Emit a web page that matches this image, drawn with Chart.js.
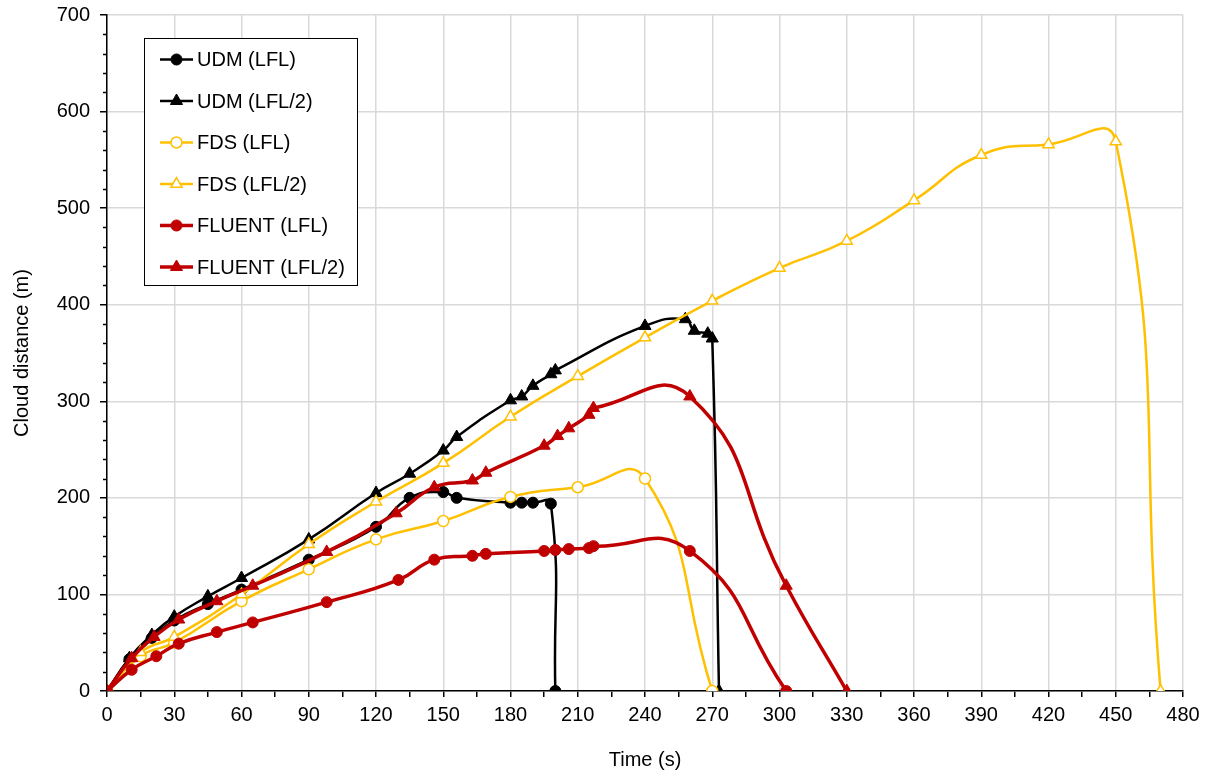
<!DOCTYPE html>
<html lang="en">
<head>
<meta charset="UTF-8">
<title>Cloud distance</title>
<script src="https://cdn.jsdelivr.net/npm/chart.js@4.4.1/dist/chart.umd.min.js"></script>
<style>
  html, body { margin: 0; padding: 0; background: #fff; }
  canvas { display: block; }
</style>
</head>
<body>
<canvas id="chart" width="1211" height="778"></canvas>
<script>
const labels = ['UDM (LFL)', 'UDM (LFL/2)', 'FDS (LFL)', 'FDS (LFL/2)', 'FLUENT (LFL)', 'FLUENT (LFL/2)'];

const udmLflT = [0, 10, 20, 30, 45, 60, 90, 120, 135, 150, 156, 180, 185, 190, 198, 200];
const udmLflV = [0, 33, 55, 73, 90, 105, 136, 170, 200, 206, 200, 195, 195, 195, 194, 0];

const udmHalfT = [0, 10, 20, 30, 45, 60, 90, 120, 135, 150, 156, 180, 185, 190, 198, 200, 240, 258, 262, 268, 270, 273];
const udmHalfV = [0, 34, 58, 77, 98, 117, 157, 205, 225, 249, 263, 301, 305, 316, 328, 332, 378, 385, 373, 370, 365, 0];

const fdsLflT = [0, 15, 30, 60, 90, 120, 150, 180, 210, 240, 270];
const fdsLflV = [0, 36, 50, 93, 126, 157, 176, 201, 211, 220, 0];

const fdsHalfT = [0, 15, 30, 60, 90, 120, 150, 180, 210, 240, 270, 300, 330, 360, 390, 420, 450, 470];
const fdsHalfV = [0, 40, 56, 100, 152, 196, 236, 284, 326, 366, 404, 438, 466, 508, 555, 566, 569, 0];

const fluentLflT = [0, 11, 22, 32, 49, 65, 98, 130, 146, 163, 169, 195, 200, 206, 215, 217, 260, 303];
const fluentLflV = [0, 22, 36, 49, 61, 71, 92, 115, 136, 140, 142, 145, 146, 147, 148, 150, 145, 0];

const fluentHalfT = [0, 11, 21, 32, 49, 65, 98, 129, 146, 163, 169, 195, 201, 206, 215, 217, 260, 303, 330];
const fluentHalfV = [0, 34, 56, 74, 93, 109, 144, 184, 211, 218, 226, 254, 264, 272, 286, 293, 305, 109, 0];

const xTicks = { min: 0, max: 480, step: 15, labelEvery: 30 };
const yTicks = { min: 0, max: 700, step: 100, minor: 20 };

const BLACK = '#000000', GOLD = '#FFC000', RED = '#C00000';
const GRID = '#d9d9d9';

function pts(t, v) {
  return t.map((x, i) => ({ x: x, y: v[i] }));
}

function series(i, t, v, color, width, style, radius, hollow) {
  return {
    label: labels[i],
    data: pts(t, v),
    borderColor: color,
    backgroundColor: color,
    borderWidth: width,
    pointStyle: style,
    pointRadius: radius,
    pointBorderWidth: hollow ? 1.5 : 1,
    pointBorderColor: color,
    pointBackgroundColor: hollow ? '#ffffff' : color,
    tension: 0.5,
    order: 6 - i
  };
}

const datasets = [
  series(0, udmLflT, udmLflV, BLACK, 2.5, 'circle', 5.5, false),
  series(1, udmHalfT, udmHalfV, BLACK, 2.5, 'triangle', 7, false),
  series(2, fdsLflT, fdsLflV, GOLD, 2.5, 'circle', 5.5, true),
  series(3, fdsHalfT, fdsHalfV, GOLD, 2.5, 'triangle', 6.5, true),
  series(4, fluentLflT, fluentLflV, RED, 3.5, 'circle', 5.5, false),
  series(5, fluentHalfT, fluentHalfV, RED, 3.5, 'triangle', 7, false)
];

function marker(ctx, style, x, y, r) {
  ctx.beginPath();
  if (style === 'circle') {
    ctx.arc(x, y, r, 0, Math.PI * 2);
  } else {
    for (let k = 0; k < 3; k++) {
      const a = k * 2 * Math.PI / 3;
      const px = x + Math.sin(a) * r, py = y - Math.cos(a) * r;
      if (k === 0) ctx.moveTo(px, py); else ctx.lineTo(px, py);
    }
    ctx.closePath();
  }
  ctx.fill();
  ctx.stroke();
}

// boxed legend inside the plot, top left
const boxLegend = {
  id: 'boxLegend',
  afterDraw(chart) {
    const ctx = chart.ctx;
    ctx.save();
    ctx.fillStyle = '#fff';
    ctx.fillRect(144.5, 38.5, 213, 247);
    ctx.strokeStyle = '#000';
    ctx.lineWidth = 1;
    ctx.strokeRect(144.5, 38.5, 213, 247);
    ctx.font = '20px "Liberation Sans", Arial, sans-serif';
    ctx.textBaseline = 'middle';
    chart.data.datasets.forEach((ds, i) => {
      const y = 59.5 + i * 41.5;
      ctx.strokeStyle = ds.borderColor;
      ctx.lineWidth = ds.borderWidth;
      ctx.beginPath();
      ctx.moveTo(160, y);
      ctx.lineTo(193, y);
      ctx.stroke();
      ctx.fillStyle = ds.pointBackgroundColor;
      ctx.lineWidth = ds.pointBorderWidth;
      marker(ctx, ds.pointStyle, 176.5, y, ds.pointRadius);
      ctx.fillStyle = '#000';
      ctx.fillText(ds.label, 197, y + 1);
    });
    ctx.restore();
  }
};

// small y ticks between the labelled ones
const minorTicks = {
  id: 'minorTicks',
  afterDraw(chart) {
    const ys = chart.scales.y;
    const ctx = chart.ctx;
    ctx.save();
    ctx.strokeStyle = '#000';
    ctx.lineWidth = 1.5;
    ctx.beginPath();
    for (let v = yTicks.min + yTicks.minor; v < yTicks.max; v += yTicks.minor) {
      if (v % yTicks.step === 0) continue;
      const py = Math.round(ys.getPixelForValue(v)) + 0.5;
      ctx.moveTo(ys.right - 4, py);
      ctx.lineTo(ys.right, py);
    }
    ctx.stroke();
    ctx.restore();
  }
};

Chart.defaults.font.family = '"Liberation Sans", Arial, sans-serif';
Chart.defaults.font.size = 20;
Chart.defaults.color = '#000';

new Chart(document.getElementById('chart'), {
  type: 'line',
  data: { datasets: datasets },
  options: {
    responsive: false,
    animation: false,
    devicePixelRatio: 1,
    layout: { padding: { top: 15, right: 28, left: 0, bottom: 0 } },
    plugins: {
      legend: { display: false },
      tooltip: { enabled: false }
    },
    scales: {
      x: {
        type: 'linear',
        min: xTicks.min,
        max: xTicks.max,
        ticks: {
          stepSize: xTicks.step,
          autoSkip: false,
          maxRotation: 0,
          padding: 6,
          callback: v => (v % xTicks.labelEvery === 0 ? v : '')
        },
        grid: {
          color: c => (c.tick && c.tick.value % xTicks.labelEvery === 0 ? GRID : 'rgba(0,0,0,0)'),
          lineWidth: 1.5,
          tickColor: '#000',
          tickWidth: 1.5,
          tickLength: 6
        },
        border: { color: '#000', width: 1.5 },
        title: { display: true, text: 'Time (s)', padding: { top: 4, bottom: 6 } },
        afterFit: s => { s.height = 87; s.paddingRight = 0; }
      },
      y: {
        min: yTicks.min,
        max: yTicks.max,
        ticks: { stepSize: yTicks.step, padding: 10 },
        grid: {
          color: GRID,
          lineWidth: 1.5,
          tickColor: '#000',
          tickWidth: 1.5,
          tickLength: 7
        },
        border: { color: '#000', width: 1.5 },
        title: { display: true, text: 'Cloud distance (m)', padding: { top: 10, bottom: 4 } },
        afterFit: s => { s.width = 107; s.paddingTop = 0; s.paddingBottom = 0; }
      }
    }
  },
  plugins: [minorTicks, boxLegend]
});
</script>
</body>
</html>
